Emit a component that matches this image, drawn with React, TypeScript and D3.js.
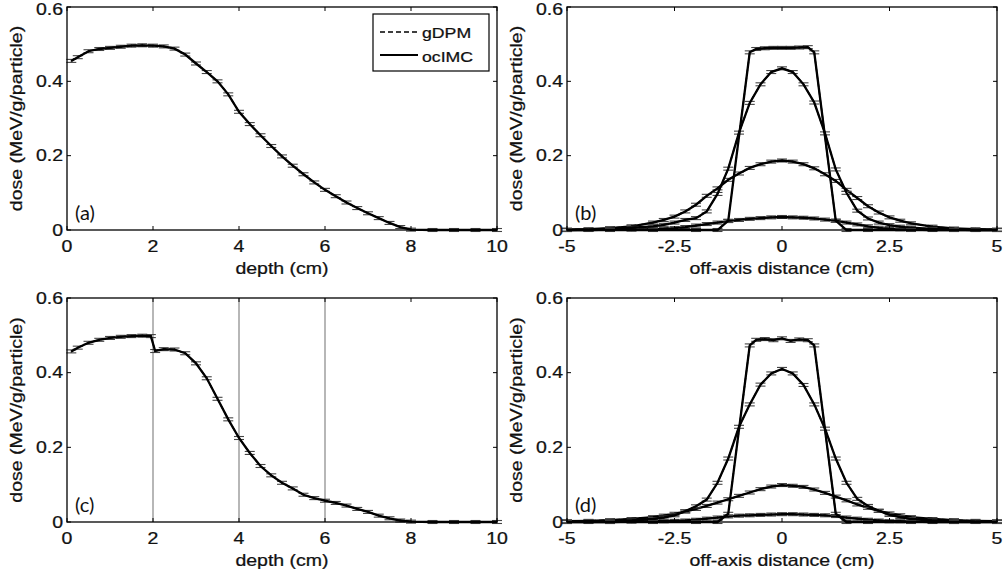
import * as d3 from "d3";

// ---- data ----
const depthTicks = [0, 2, 4, 6, 8, 10];
const lateralTicks = [-5, -2.5, 0, 2.5, 5];
const lateralTickLabels = ["-5", "-2.5", "0", "2.5", "5"];
const doseTicks = [0, 0.2, 0.4, 0.6];

const depthX = [0.1, 0.25, 0.5, 0.75, 1.0, 1.25, 1.5, 1.75, 2.0, 2.25, 2.5, 2.75, 3.0, 3.25, 3.5, 3.75, 4.0, 4.25, 4.5, 4.75, 5.0, 5.25, 5.5, 5.75, 6.0, 6.25, 6.5, 6.75, 7.0, 7.25, 7.5, 7.75, 8.0, 8.5, 9.0, 9.5, 10.0];
const depthDoseA = [0.455, 0.465, 0.481, 0.487, 0.49, 0.493, 0.496, 0.497, 0.496, 0.494, 0.488, 0.472, 0.448, 0.425, 0.4, 0.365, 0.318, 0.285, 0.255, 0.226, 0.198, 0.173, 0.15, 0.128, 0.108, 0.091, 0.074, 0.059, 0.045, 0.032, 0.019, 0.008, 0.001, 0, 0, 0, 0];

const depthXC = [0.1, 0.25, 0.5, 0.75, 1.0, 1.25, 1.5, 1.75, 1.95, 2.05, 2.25, 2.5, 2.75, 3.0, 3.25, 3.5, 3.75, 4.0, 4.25, 4.5, 4.75, 5.0, 5.25, 5.5, 5.75, 6.0, 6.25, 6.5, 6.75, 7.0, 7.25, 7.5, 7.75, 8.0, 8.5, 9.0, 9.5, 10.0];
const depthDoseC = [0.457, 0.467, 0.48, 0.488, 0.493, 0.496, 0.498, 0.499, 0.498, 0.458, 0.463, 0.462, 0.452, 0.425, 0.385, 0.33, 0.275, 0.225, 0.185, 0.15, 0.125, 0.105, 0.09, 0.073, 0.064, 0.057, 0.051, 0.044, 0.035, 0.027, 0.017, 0.01, 0.004, 0.001, 0, 0, 0, 0];

const latGrid = [-5, -4.5, -4, -3.5, -3, -2.75, -2.5, -2.25, -2, -1.75, -1.5, -1.25, -1, -0.75, -0.5, -0.25, 0, 0.25, 0.5, 0.75, 1, 1.25, 1.5, 1.75, 2, 2.25, 2.5, 2.75, 3, 3.5, 4, 4.5, 5];
const flatX = [-5, -4, -3, -2, -1.5, -1.25, -0.75, -0.6, -0.4, -0.2, 0, 0.2, 0.4, 0.6, 0.75, 1.25, 1.5, 2, 3, 4, 5];

const flatB = [0, 0, 0, 0, 0, 0.025, 0.478, 0.487, 0.489, 0.49, 0.49, 0.49, 0.491, 0.492, 0.478, 0.025, 0, 0, 0, 0, 0];
const peakB = [0, 0.001, 0.003, 0.006, 0.01, 0.014, 0.02, 0.027, 0.032, 0.05, 0.097, 0.165, 0.262, 0.342, 0.392, 0.425, 0.435, 0.425, 0.392, 0.343, 0.26, 0.163, 0.1, 0.052, 0.031, 0.02, 0.013, 0.009, 0.006, 0.003, 0.001, 0, 0];
const broadB = [0.001, 0.002, 0.005, 0.01, 0.02, 0.027, 0.036, 0.05, 0.068, 0.092, 0.112, 0.135, 0.152, 0.167, 0.177, 0.184, 0.187, 0.184, 0.177, 0.166, 0.15, 0.132, 0.108, 0.086, 0.064, 0.047, 0.034, 0.025, 0.018, 0.009, 0.004, 0.002, 0.001];
const lowB = [0, 0, 0.001, 0.001, 0.002, 0.003, 0.005, 0.008, 0.012, 0.016, 0.02, 0.024, 0.027, 0.03, 0.032, 0.034, 0.035, 0.034, 0.033, 0.031, 0.028, 0.025, 0.02, 0.015, 0.01, 0.006, 0.003, 0.002, 0.001, 0, 0, 0, 0];

const flatD = [0, 0, 0, 0, 0, 0.022, 0.473, 0.488, 0.49, 0.487, 0.492, 0.485, 0.489, 0.487, 0.473, 0.022, 0, 0, 0, 0, 0];
const peakD = [0.001, 0.002, 0.002, 0.004, 0.008, 0.012, 0.018, 0.029, 0.042, 0.06, 0.105, 0.17, 0.255, 0.315, 0.368, 0.398, 0.41, 0.398, 0.367, 0.315, 0.25, 0.17, 0.105, 0.062, 0.043, 0.03, 0.019, 0.013, 0.008, 0.004, 0.002, 0.001, 0.001];
const broadD = [0.002, 0.003, 0.005, 0.008, 0.013, 0.017, 0.022, 0.028, 0.035, 0.043, 0.052, 0.061, 0.07, 0.079, 0.088, 0.095, 0.099, 0.097, 0.094, 0.087, 0.078, 0.068, 0.058, 0.047, 0.038, 0.03, 0.023, 0.018, 0.013, 0.008, 0.005, 0.003, 0.002];
const lowD = [0, 0, 0, 0.001, 0.002, 0.002, 0.003, 0.004, 0.006, 0.009, 0.012, 0.015, 0.017, 0.018, 0.019, 0.02, 0.021, 0.021, 0.02, 0.019, 0.018, 0.016, 0.012, 0.009, 0.006, 0.004, 0.002, 0.002, 0.001, 0, 0, 0, 0];

const errHalf = 0.004;

type Curve = { x: number[]; y: number[] };

const FONT = "'Liberation Sans', Arial, sans-serif";
const STRETCH = 1.22;

function SText(props: { x: number; y: number; anchor?: string; size: number; rotate?: number; children: any }) {
  const { x, y, anchor = "middle", size, rotate = 0, children } = props;
  return (
    <g transform={`translate(${x},${y}) rotate(${rotate}) scale(${STRETCH},1)`}>
      <text textAnchor={anchor} fontSize={size} fontFamily={FONT} fill="#111" stroke="#111" strokeWidth={0.25}>
        {children}
      </text>
    </g>
  );
}

function Panel(props: {
  left: number; top: number; right: number; bottom: number;
  xDomain: [number, number]; xTicks: number[]; xTickLabels: string[]; xLabel: string;
  curves: Curve[]; tag: string; legend?: boolean; guides?: number[];
}) {
  const { left, top, right, bottom, xDomain, xTicks, xTickLabels, xLabel, curves, tag, legend, guides } = props;
  const x = d3.scaleLinear().domain(xDomain).range([left, right]);
  const y = d3.scaleLinear().domain([0, 0.6]).range([bottom, top]);
  const line = d3.line<[number, number]>().x((d) => x(d[0])).y((d) => y(d[1]));
  const tickLen = 4;
  return (
    <g>
      {(guides || []).map((g) => (
        <line key={g} x1={x(g)} x2={x(g)} y1={top} y2={bottom} stroke="#999" strokeWidth={1.4} />
      ))}
      {curves.map((c, ci) => {
        const pts = c.x.map((v, i) => [v, c.y[i]] as [number, number]);
        return (
          <g key={ci}>
            {pts.map((p, i) => (
              <g key={i} stroke="#444" strokeWidth={1.1}>
                <line x1={x(p[0])} x2={x(p[0])} y1={y(p[1] - errHalf)} y2={y(p[1] + errHalf)} />
                <line x1={x(p[0]) - 5} x2={x(p[0]) + 5} y1={y(p[1] - errHalf)} y2={y(p[1] - errHalf)} />
                <line x1={x(p[0]) - 5} x2={x(p[0]) + 5} y1={y(p[1] + errHalf)} y2={y(p[1] + errHalf)} />
              </g>
            ))}
            <path d={line(pts) || ""} fill="none" stroke="#000" strokeWidth={1.5} strokeDasharray="5,3" />
            <path d={line(pts) || ""} fill="none" stroke="#000" strokeWidth={2.3} />
          </g>
        );
      })}
      <rect x={left} y={top} width={right - left} height={bottom - top} fill="none" stroke="#000" strokeWidth={1.3} />
      {xTicks.map((t, i) => (
        <g key={"xt" + i}>
          <line x1={x(t)} x2={x(t)} y1={bottom} y2={bottom - tickLen} stroke="#000" />
          <line x1={x(t)} x2={x(t)} y1={top} y2={top + tickLen} stroke="#000" />
          <SText x={x(t)} y={bottom + 22} size={16}>{xTickLabels[i]}</SText>
        </g>
      ))}
      {doseTicks.map((t) => (
        <g key={"yt" + t}>
          <line x1={left} x2={left + tickLen} y1={y(t)} y2={y(t)} stroke="#000" />
          <line x1={right} x2={right - tickLen} y1={y(t)} y2={y(t)} stroke="#000" />
          <SText x={left - 4} y={Math.max(y(t) + 5.8, 15)} anchor="end" size={16}>{String(t)}</SText>
        </g>
      ))}
      <SText x={(left + right) / 2} y={bottom + 44} size={16}>{xLabel}</SText>
      <SText x={left - 45} y={(top + bottom) / 2} size={16} rotate={-90}>dose (MeV/g/particle)</SText>
      <text x={left + 8} y={bottom - 10} fontSize={20} fontFamily="Lato, 'Open Sans', sans-serif" fill="#111">{tag}</text>
      {legend && (
        <g>
          <rect x={373} y={14} width={116} height={57} fill="#fff" stroke="#000" strokeWidth={1.2} />
          <line x1={380} x2={418} y1={32} y2={32} stroke="#000" strokeWidth={1.5} strokeDasharray="5,3" />
          <line x1={380} x2={418} y1={55} y2={55} stroke="#000" strokeWidth={1.8} />
          <SText x={422} y={38} anchor="start" size={14.5}>gDPM</SText>
          <SText x={422} y={62} anchor="start" size={14.5}>ocIMC</SText>
        </g>
      )}
    </g>
  );
}

export default function App() {
  const depthLabels = depthTicks.map(String);
  return (
    <svg width={1003} height={577} style={{ position: "absolute", left: 0, top: 0, background: "#fff" }}>
      <Panel left={67} top={7} right={497} bottom={230} xDomain={[0, 10]} xTicks={depthTicks} xTickLabels={depthLabels}
        xLabel="depth (cm)" curves={[{ x: depthX, y: depthDoseA }]} tag="(a)" legend />
      <Panel left={567} top={7} right={997} bottom={230} xDomain={[-5, 5]} xTicks={lateralTicks} xTickLabels={lateralTickLabels}
        xLabel="off-axis distance (cm)" tag="(b)"
        curves={[{ x: latGrid, y: lowB }, { x: latGrid, y: broadB }, { x: latGrid, y: peakB }, { x: flatX, y: flatB }]} />
      <Panel left={67} top={298} right={497} bottom={522} xDomain={[0, 10]} xTicks={depthTicks} xTickLabels={depthLabels}
        xLabel="depth (cm)" curves={[{ x: depthXC, y: depthDoseC }]} tag="(c)" guides={[2, 4, 6]} />
      <Panel left={567} top={298} right={997} bottom={522} xDomain={[-5, 5]} xTicks={lateralTicks} xTickLabels={lateralTickLabels}
        xLabel="off-axis distance (cm)" tag="(d)"
        curves={[{ x: latGrid, y: lowD }, { x: latGrid, y: broadD }, { x: latGrid, y: peakD }, { x: flatX, y: flatD }]} />
    </svg>
  );
}
